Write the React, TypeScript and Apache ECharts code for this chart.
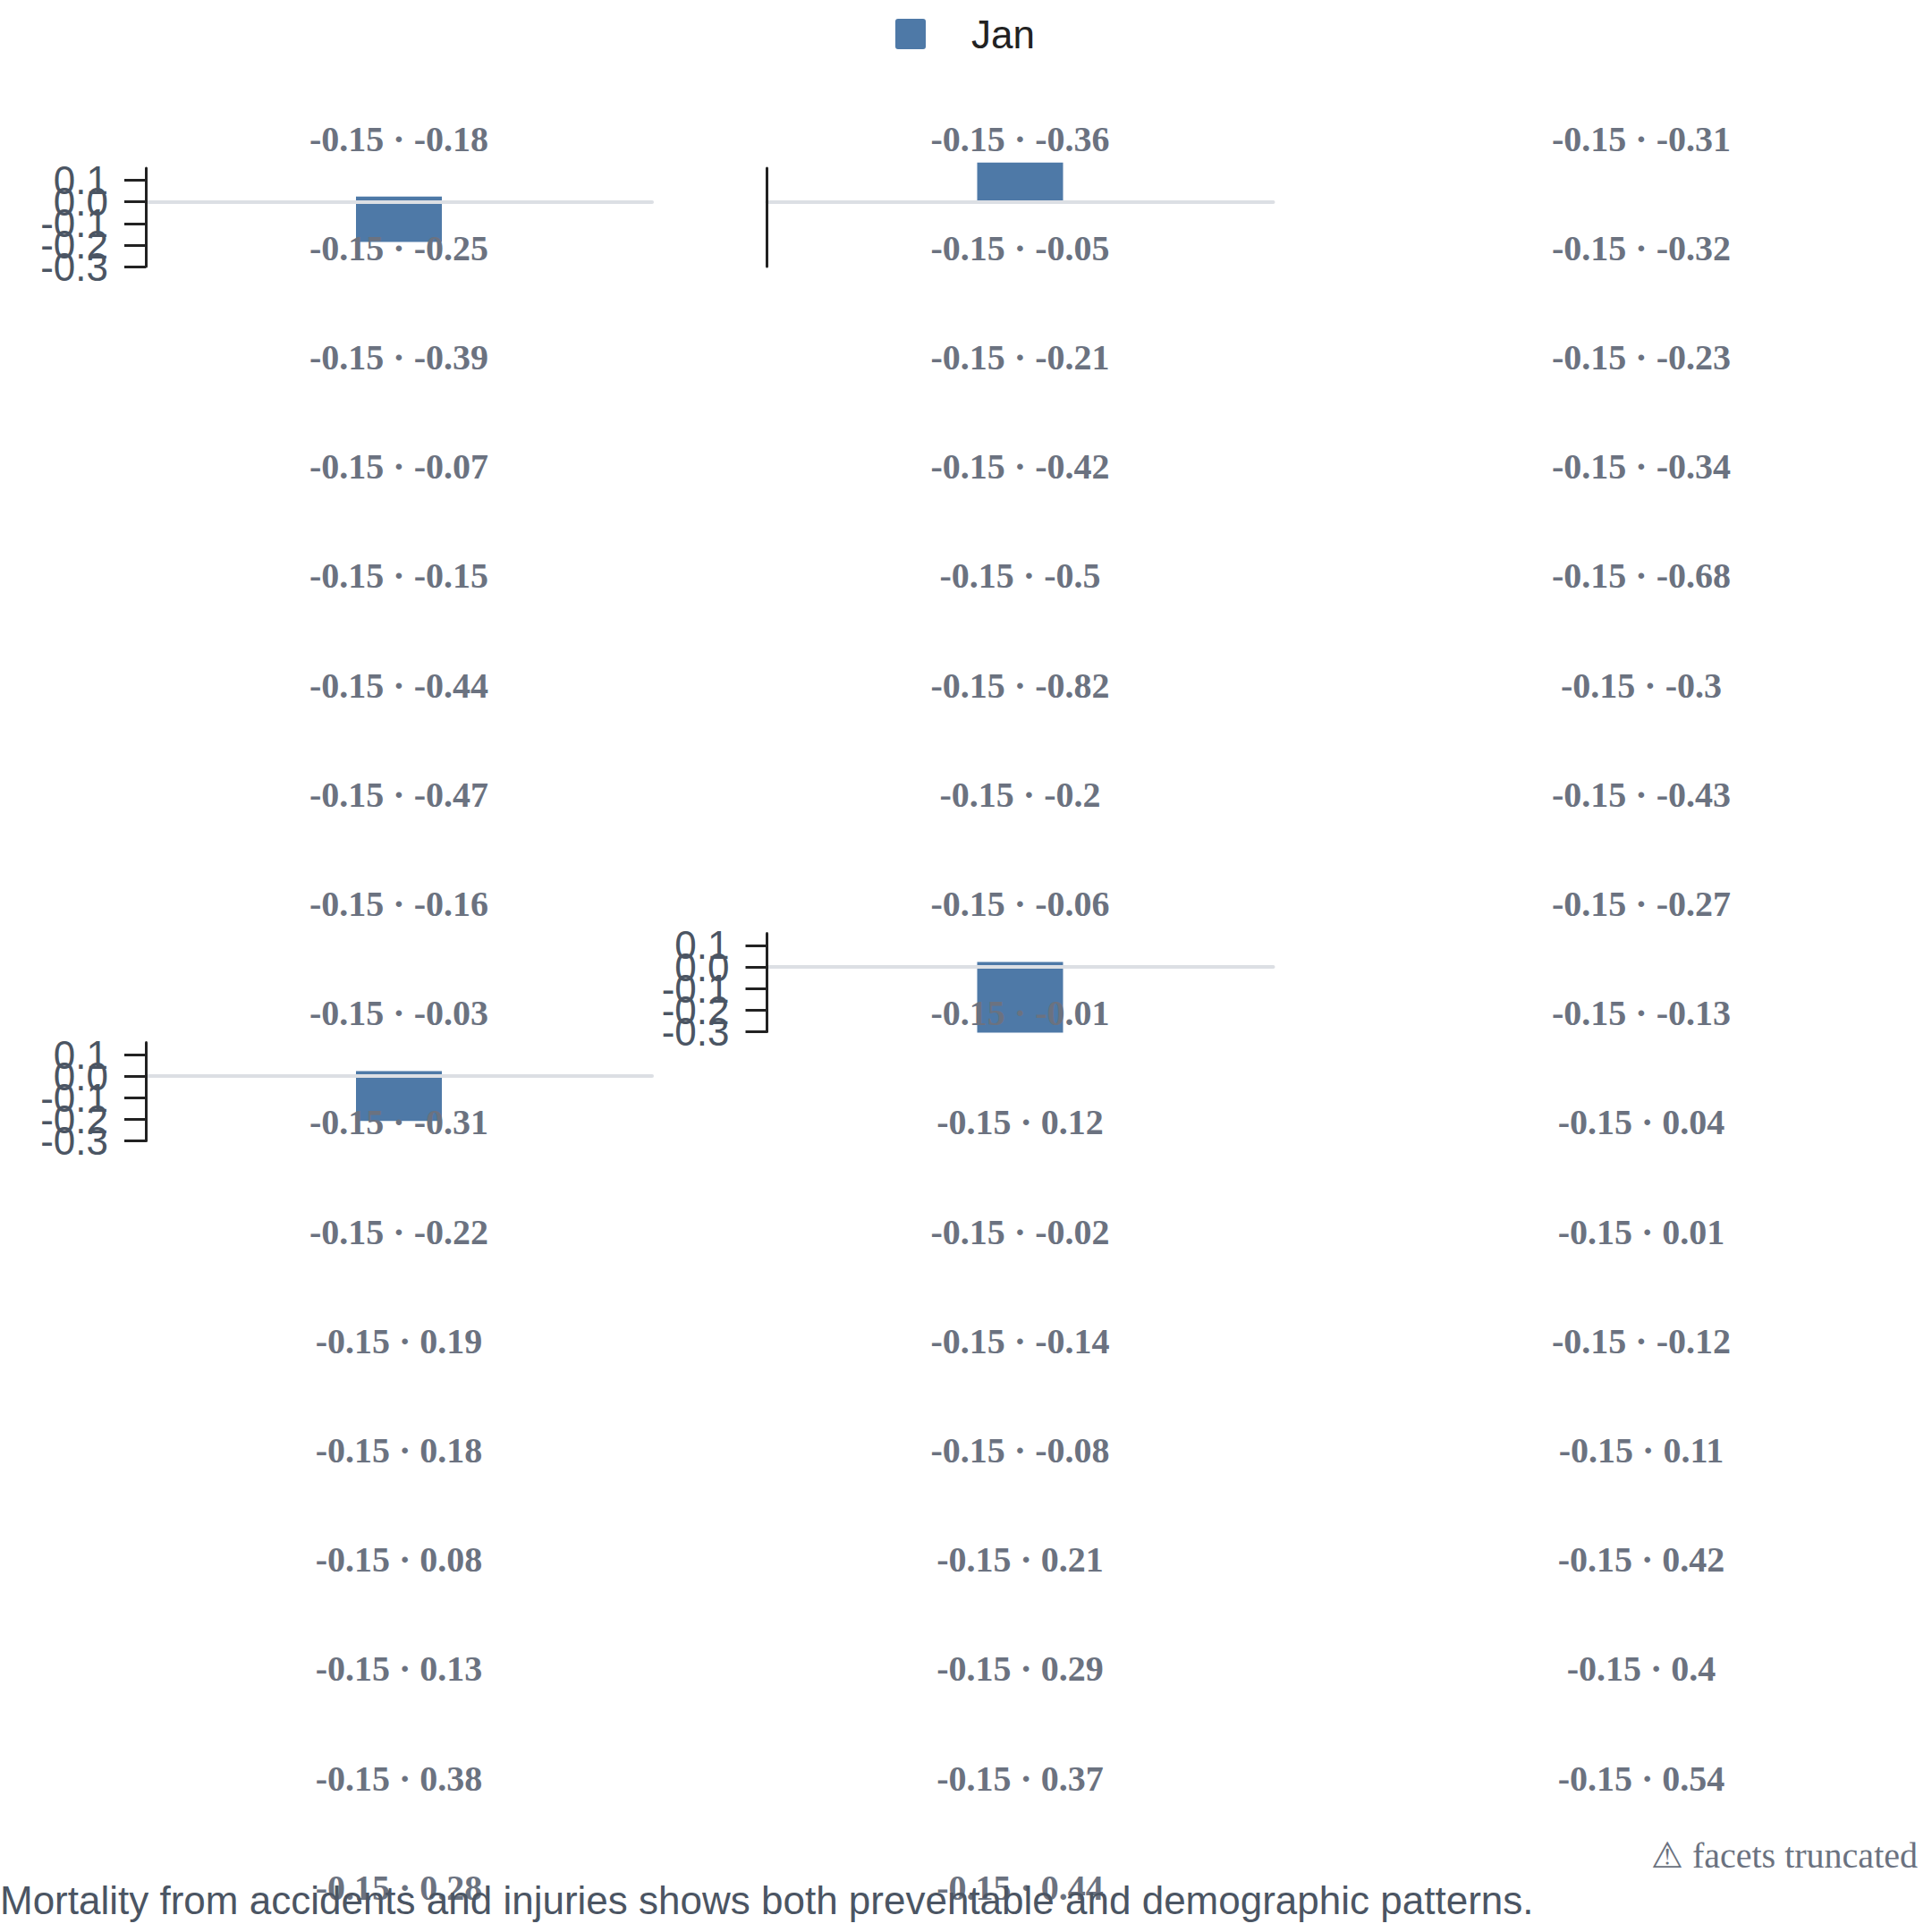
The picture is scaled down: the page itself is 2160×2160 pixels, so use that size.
import React, { useEffect, useRef } from "react";
import * as echarts from "echarts";

// ---------- data ----------
const seriesNames = ["Jan"];
const categories = ["Jan"];
const lowerBound = -0.15;
const upperBounds = [
  -0.18, -0.36, -0.31,
  -0.25, -0.05, -0.32,
  -0.39, -0.21, -0.23,
  -0.07, -0.42, -0.34,
  -0.15, -0.5, -0.68,
  -0.44, -0.82, -0.3,
  -0.47, -0.2, -0.43,
  -0.16, -0.06, -0.27,
  -0.03, -0.01, -0.13,
  -0.31, 0.12, 0.04,
  -0.22, -0.02, 0.01,
  0.19, -0.14, -0.12,
  0.18, -0.08, 0.11,
  0.08, 0.21, 0.42,
  0.13, 0.29, 0.4,
  0.38, 0.37, 0.54,
  0.28, 0.44,
];
const panelFacets = [0, 1, 22, 24];
const panelValues = [-0.186, 0.182, -0.305, -0.207];
const panelCaps = [0.024, 0, 0.023, 0.024];
const yTickValues = [-0.3, -0.2, -0.1, 0, 0.1];
const yMin = -0.3;
const yMax = 0.156;
const captionText =
  "Mortality from accidents and injuries shows both preventable and demographic patterns.";
const footnoteText = "\u26A0 facets truncated";

// ---------- layout / style ----------
const SIZE = 2160;
const NCOLS = 3;
const COL_LEFT0 = 163;
const COL_STEP = 694.5;
const GRID_W = 566;
const GRID_H = 110;
const ROW_STEP = 122.2;
const TITLE_Y0 = 155;
const GRID_TOP0 = 188;
const panelShowTicks = [true, false, true, true];

const SANS = "'Liberation Sans', Arial, Helvetica, sans-serif";
const SERIF = "'Liberation Serif', 'Times New Roman', Times, serif";
const BAR_COLOR = "#4e79a7";
const AXIS_COLOR = "#222222";

// ticks are split over two overlaid axes so that the library does not thin out the crowded labels
const tickSetA = yTickValues.filter((_, i) => i % 2 === 0);
const tickSetB = yTickValues.filter((_, i) => i % 2 === 1);

function makeYAxis(p: number, ticks: number[], show: boolean, showLine: boolean) {
  return {
    type: "value",
    gridIndex: p,
    position: "left",
    offset: 0,
    min: yMin,
    max: yMax,
    z: 6,
    splitLine: { show: false },
    axisLine: { show: showLine, onZero: false, lineStyle: { color: AXIS_COLOR, width: 3 } },
    axisTick: {
      show,
      length: 24,
      customValues: ticks,
      lineStyle: { color: AXIS_COLOR, width: 3 },
    },
    axisLabel: {
      show,
      customValues: ticks,
      showMinLabel: true,
      showMaxLabel: true,
      hideOverlap: false,
      margin: 42,
      fontSize: 44,
      fontFamily: SANS,
      color: "#4b5563",
      formatter: (v: number) => Number(v).toFixed(1),
    },
  };
}

function buildOption() {
  const titles = upperBounds.map((u, i) => {
    const r = Math.floor(i / NCOLS);
    const c = i % NCOLS;
    return {
      text: `${lowerBound} \u00B7 ${u}`,
      left: COL_LEFT0 + c * COL_STEP + GRID_W / 2,
      top: TITLE_Y0 + r * ROW_STEP,
      textAlign: "center",
      textVerticalAlign: "middle",
      padding: 0,
      textStyle: {
        fontFamily: SERIF,
        fontWeight: "bold",
        fontSize: 40,
        color: "#6b7280",
      },
    };
  });

  const grids: any[] = [];
  const xAxes: any[] = [];
  const yAxes: any[] = [];
  const series: any[] = [];

  panelFacets.forEach((f, p) => {
    const r = Math.floor(f / NCOLS);
    const c = f % NCOLS;
    grids.push({
      left: COL_LEFT0 + c * COL_STEP,
      top: GRID_TOP0 + r * ROW_STEP,
      width: GRID_W,
      height: GRID_H,
      containLabel: false,
    });
    const show = panelShowTicks[p];
    const yA = yAxes.length;
    yAxes.push(makeYAxis(p, tickSetA, show, true));
    yAxes.push(makeYAxis(p, tickSetB, show, false));
    xAxes.push({
      type: "category",
      gridIndex: p,
      data: categories,
      z: 5,
      axisLine: {
        show: true,
        onZero: true,
        onZeroAxisIndex: yA,
        lineStyle: { color: "#dcdfe4", width: 4 },
      },
      axisTick: { show: false },
      axisLabel: { show: false },
      splitLine: { show: false },
    });
    series.push({
      type: "bar",
      name: seriesNames[0],
      xAxisIndex: p,
      yAxisIndex: yA,
      stack: "s" + p,
      barWidth: 96,
      clip: false,
      itemStyle: { color: BAR_COLOR },
      data: [panelValues[p]],
    });
    if (panelCaps[p] !== 0) {
      series.push({
        type: "bar",
        name: seriesNames[0],
        xAxisIndex: p,
        yAxisIndex: yA,
        stack: "s" + p,
        barWidth: 96,
        clip: false,
        itemStyle: { color: BAR_COLOR },
        data: [panelCaps[p]],
      });
    }
  });

  return {
    animation: false,
    backgroundColor: "#ffffff",
    title: titles,
    legend: {
      data: seriesNames,
      left: 1001,
      top: 16,
      padding: 0,
      itemWidth: 34,
      itemHeight: 34,
      icon: "path://M3,0H31Q34,0 34,3V31Q34,34 31,34H3Q0,34 0,31V3Q0,0 3,0Z",
      itemStyle: { color: BAR_COLOR },
      textStyle: {
        fontFamily: SANS,
        fontSize: 44,
        color: "#222222",
        padding: [0, 0, 0, 46],
      },
    },
    grid: grids,
    xAxis: xAxes,
    yAxis: yAxes,
    series,
    graphic: [
      {
        type: "text",
        z: 100,
        x: 0,
        y: 2124,
        style: {
          text: captionText,
          fontFamily: SANS,
          fontSize: 44,
          fill: "#4b5563",
          align: "left",
          verticalAlign: "middle",
        },
      },
      {
        type: "text",
        z: 100,
        x: 2144,
        y: 2074,
        style: {
          text: footnoteText,
          fontFamily: SERIF,
          fontSize: 40,
          fill: "#6b7280",
          align: "right",
          verticalAlign: "middle",
        },
      },
    ],
  };
}

export default function App() {
  const ref = useRef<HTMLDivElement>(null);
  useEffect(() => {
    document.body.style.margin = "0";
    if (!ref.current) return;
    const chart = echarts.init(ref.current, undefined, { renderer: "svg" });
    chart.setOption(buildOption() as any);
    return () => chart.dispose();
  }, []);
  return <div ref={ref} style={{ width: SIZE, height: SIZE }} />;
}
